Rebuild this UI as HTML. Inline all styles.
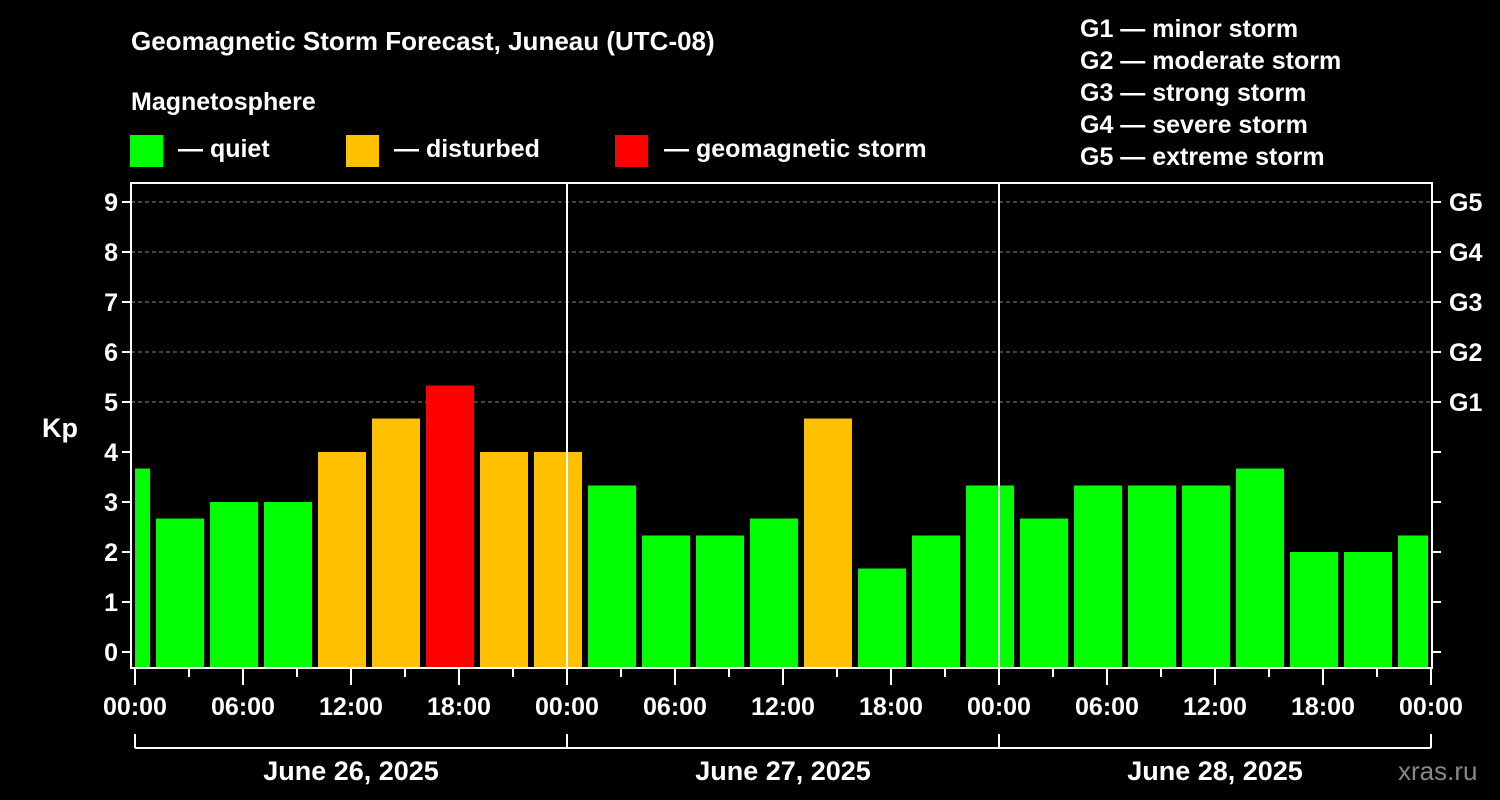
<!DOCTYPE html>
<html><head><meta charset="utf-8"><style>
body{margin:0;background:#000;}
svg{display:block;font-family:"Liberation Sans",sans-serif;font-weight:bold;}
</style></head><body>
<svg id="chart" width="1500" height="800" viewBox="0 0 1500 800">
<rect width="1500" height="800" fill="#000"/>
<text x="131" y="50" fill="#fff" font-size="26">Geomagnetic Storm Forecast, Juneau (UTC-08)</text>
<text x="131" y="110" fill="#fff" font-size="25">Magnetosphere</text>
<g><rect x="130" y="135" width="33" height="32" fill="#00ff00"/><text x="178" y="157" fill="#fff" font-size="25">— quiet</text></g>
<g><rect x="346" y="135" width="33" height="32" fill="#ffc000"/><text x="394" y="157" fill="#fff" font-size="25">— disturbed</text></g>
<g><rect x="615" y="135" width="33" height="32" fill="#ff0000"/><text x="664" y="157" fill="#fff" font-size="25">— geomagnetic storm</text></g>
<g fill="#fff" font-size="25">
<text x="1080" y="37">G1 — minor storm</text>
<text x="1080" y="69">G2 — moderate storm</text>
<text x="1080" y="101">G3 — strong storm</text>
<text x="1080" y="133">G4 — severe storm</text>
<text x="1080" y="165">G5 — extreme storm</text>
</g>
<text x="42" y="437" fill="#fff" font-size="27">Kp</text>
<text x="1398" y="780" fill="#888" font-size="26" font-weight="normal">xras.ru</text>
<g id="plot"></g>
</svg>
<script>
const kpValues=[3.67,2.67,3,3,4,4.67,5.33,4,4,3.33,2.33,2.33,2.67,4.67,1.67,2.33,3.33,2.67,3.33,3.33,3.33,3.67,2,2,2.33];
const dayLabels=["June 26, 2025","June 27, 2025","June 28, 2025"];
const yTicks=[0,1,2,3,4,5,6,7,8,9];
const gLabels=["G1","G2","G3","G4","G5"];
const xTickLabels=["00:00","06:00","12:00","18:00"];

const L=131,R=1432,T=183,B=668,X0=135,HPX=18;
const y=k=>652-50*k;
const x=h=>X0+h*HPX;
const ns="http://www.w3.org/2000/svg";
const g=document.getElementById('plot');
function mk(tag,attrs,parent){const e=document.createElementNS(ns,tag);for(const k in attrs)e.setAttribute(k,attrs[k]);(parent||g).appendChild(e);return e;}
// grid
for(let k=5;k<=9;k++){const e=mk('line',{x1:L,x2:R,y1:y(k),y2:y(k),stroke:'#888','stroke-dasharray':'4,3','stroke-width':1});

}
// bars
kpValues.forEach((v,i)=>{
 const h0=-2+3*i;
 let x1=x(h0)+3,x2=x(h0+3)-3;
 x1=Math.max(x1,L+4);x2=Math.min(x2,R-4);
 const c=v>=5?'#ff0000':(v>=4?'#ffc000':'#00ff00');
 const r=mk('rect',{x:x1,y:y(v),width:x2-x1,height:B-y(v),fill:c});
 
 
});
// day dividers
[1,2].forEach(d=>{const e=mk('line',{x1:x(24*d),x2:x(24*d),y1:T,y2:B,stroke:'#fff','stroke-width':2});

});
// frame
const f=mk('rect',{x:L,y:T,width:R-L,height:B-T,fill:'none',stroke:'#fff','stroke-width':2});


// y ticks
yTicks.forEach(k=>{
 mk('line',{x1:L-9,x2:L,y1:y(k),y2:y(k),stroke:'#fff','stroke-width':2});
 mk('line',{x1:R,x2:R+9,y1:y(k),y2:y(k),stroke:'#fff','stroke-width':2});
 const t=mk('text',{x:L-13,y:y(k)+9,fill:'#fff','font-size':25,'text-anchor':'end'});t.textContent=k;
 
 
});
gLabels.forEach((s,i)=>{const t=mk('text',{x:1449,y:y(5+i)+9,fill:'#fff','font-size':25});t.textContent=s;
 
 });
// x ticks
for(let h=0;h<=72;h+=3){
 const major=h%6===0;
 mk('line',{x1:x(h),x2:x(h),y1:B,y2:B+(major?17:9),stroke:'#fff','stroke-width':2});
 if(major){const t=mk('text',{x:x(h),y:715,fill:'#fff','font-size':25,'text-anchor':'middle'});t.textContent=xTickLabels[(h%24)/6];
 
 }
}
// day bracket
mk('line',{x1:x(0),x2:x(72),y1:748,y2:748,stroke:'#fff','stroke-width':2});
for(let d=0;d<=3;d++)mk('line',{x1:x(24*d),x2:x(24*d),y1:734,y2:748,stroke:'#fff','stroke-width':2});
dayLabels.forEach((s,d)=>{const t=mk('text',{x:x(24*d+12),y:780,fill:'#fff','font-size':27,'text-anchor':'middle'});t.textContent=s;
 
 });
</script>
</body></html>
